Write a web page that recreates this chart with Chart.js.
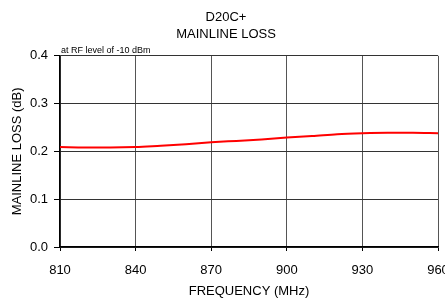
<!DOCTYPE html>
<html>
<head>
<meta charset="utf-8">
<script src="https://cdn.jsdelivr.net/npm/chart.js@4"></script>
<style>
  html, body { margin: 0; padding: 0; background: #fff; overflow: hidden; }
  #wrap { width: 445px; height: 299px; overflow: hidden; }
</style>
</head>
<body>
<div id="wrap"><canvas id="lossChart" width="452" height="299"></canvas></div>
<script>
const freqs = [810, 820, 830, 840, 850, 860, 870, 880, 890, 900, 910, 920, 930, 940, 950, 960];
const loss = [0.209, 0.208, 0.208, 0.209, 0.212, 0.215, 0.219, 0.222, 0.225, 0.229, 0.232, 0.236, 0.238, 0.239, 0.239, 0.238];
const title_lines = ['D20C+', 'MAINLINE LOSS'];
const note = 'at RF level of -10 dBm';

const font_family = "'Liberation Sans', Arial, sans-serif";

const notePlugin = {
  id: 'note',
  afterDraw: (chart) => {
    const { ctx, chartArea } = chart;
    ctx.save();
    ctx.font = '9px ' + font_family;
    ctx.fillStyle = '#000';
    ctx.textBaseline = 'bottom';
    ctx.fillText(note, chartArea.left + 1, chartArea.top - 1);
    ctx.restore();
  },
};

const ctx = document.querySelector('#lossChart');
new Chart(ctx, {
  type: 'line',
  data: {
    datasets: [
      {
        data: freqs.map((f, i) => ({ x: f, y: loss[i] })),
        borderColor: '#ff0000',
        borderWidth: 2,
        pointRadius: 0,
        tension: 0.4,
        cubicInterpolationMode: 'monotone',
      },
    ],
  },
  options: {
    responsive: false,
    animation: false,
    layout: { padding: { top: 9, left: 0, right: 0, bottom: 0 } },
    plugins: {
      legend: { display: false },
      tooltip: { enabled: false },
      title: {
        display: true,
        text: title_lines,
        color: '#000',
        font: { family: font_family, size: 13, weight: 'normal', lineHeight: 1.3 },
        padding: { top: 0, bottom: 13 },
      },
    },
    scales: {
      x: {
        type: 'linear',
        min: 810,
        max: 960,
        ticks: { stepSize: 30, color: '#000', font: { family: font_family, size: 13 }, padding: 12, maxRotation: 0 },
        grid: { color: '#555', tickColor: '#000', tickLength: 4, lineWidth: 1 },
        border: { color: '#000', width: 1.5 },
        title: {
          display: true,
          text: 'FREQUENCY (MHz)',
          color: '#000',
          font: { family: font_family, size: 13 },
          padding: { top: 0, bottom: 0 },
        },
        afterFit: (scale) => {
          scale.height = 52;
          scale.paddingLeft = 0;
          scale.paddingRight = 14;
        },
      },
      y: {
        min: 0,
        max: 0.4,
        ticks: {
          stepSize: 0.1,
          color: '#000',
          font: { family: font_family, size: 13 },
          padding: 6,
          callback: (v) => v.toFixed(1),
        },
        grid: { color: '#333', tickColor: '#000', tickLength: 6, lineWidth: 1 },
        border: { color: '#000', width: 1.5 },
        title: {
          display: true,
          text: 'MAINLINE LOSS (dB)',
          color: '#000',
          font: { family: font_family, size: 13 },
          padding: { top: 10, bottom: 0 },
        },
        afterFit: (scale) => { scale.width = 60; },
      },
    },
  },
  plugins: [notePlugin],
});
</script>
</body>
</html>
